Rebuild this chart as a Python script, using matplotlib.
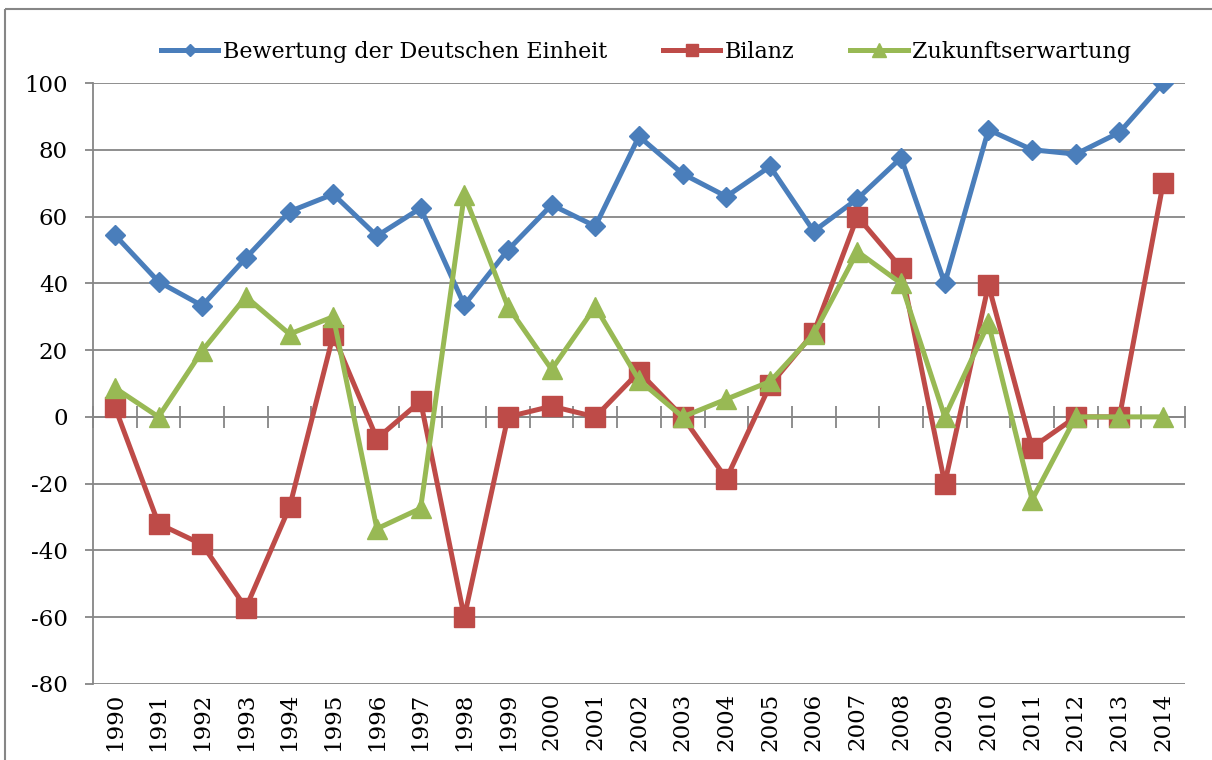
# -*- coding: utf-8 -*-

import matplotlib
matplotlib.use('Agg')
import matplotlib.pyplot as plt
from matplotlib.lines import Line2D

# Jahre und Werte
jahre = [str(j) for j in range(1990, 2015)]

bewertung = [54.5, 40.5, 33.3, 47.6, 61.5, 66.7, 54.2, 62.5, 33.5, 50.0,
             63.5, 57.1, 84.0, 72.8, 66.0, 75.0, 55.6, 65.3, 77.6, 40.0,
             86.0, 80.0, 78.7, 85.2, 100.0]

bilanz = [3.0, -32.0, -38.2, -57.2, -27.0, 24.5, -6.5, 4.7, -60.0, 0.0,
          3.2, 0.0, 13.5, 0.0, -18.5, 9.5, 25.2, 60.0, 44.6, -20.0,
          39.5, -9.2, 0.0, 0.0, 70.0]

zukunft = [8.7, 0.0, 19.8, 36.0, 24.8, 30.0, -33.5, -27.4, 66.5, 33.0,
           14.2, 33.0, 11.0, 0.0, 5.3, 10.6, 24.8, 49.5, 40.0, 0.0,
           28.0, -24.8, 0.0, 0.0, 0.0]

namen = ['Bewertung der Deutschen Einheit', 'Bilanz', 'Zukunftserwartung']
farben = ['#4A7EBB', '#BE4B48', '#98B954']

plt.rcParams['font.family'] = ['DejaVu Serif']
plt.rcParams['axes.unicode_minus'] = False
grau = '#868686'

fig = plt.figure(figsize=(12.12, 7.6), dpi=100)
ax = fig.add_axes([93 / 1212, 1 - 684 / 760, (1185 - 93) / 1212, (684 - 83) / 760])

x = list(range(len(jahre)))
ax.plot(x, bewertung, color=farben[0], lw=3.6, marker='D', ms=10, label=namen[0])
ax.plot(x, bilanz, color=farben[1], lw=3.6, marker='s', ms=14, label=namen[1])
ax.plot(x, zukunft, color=farben[2], lw=3.6, marker='^', ms=14, label=namen[2])

ymin, ymax = -80, 100
ax.set_ylim(ymin, ymax)
ax.set_xlim(-0.5, len(jahre) - 0.5)
ax.set_yticks(range(-80, 101, 20))
ax.yaxis.grid(True, color=grau, lw=1.3)
ax.set_axisbelow(True)

for s in ['top', 'right', 'bottom']:
    ax.spines[s].set_visible(False)
ax.spines['left'].set_color(grau)
ax.spines['left'].set_linewidth(1.3)

ax.set_xticks(x)
ax.set_xticklabels(jahre, rotation=90, va='top', ha='center')
ax.tick_params(axis='x', length=0, pad=6, labelsize=16.5)
ax.tick_params(axis='y', length=6, color=grau, width=1.3, pad=12, labelsize=16.5)

# Nulllinie mit Teilstrichen zwischen den Kategorien
null = ax.secondary_xaxis((0 - ymin) / (ymax - ymin))
null.set_xticks([i - 0.5 for i in range(len(jahre) + 1)])
null.tick_params(direction='inout', length=16, color=grau, width=1.3, labelbottom=False)
null.spines['bottom'].set_color(grau)
null.spines['bottom'].set_linewidth(1.3)

handles = [Line2D([], [], color=farben[0], lw=3.6, marker='D', ms=6),
           Line2D([], [], color=farben[1], lw=3.6, marker='s', ms=9),
           Line2D([], [], color=farben[2], lw=3.6, marker='^', ms=9.5)]
fig.legend(handles, namen, loc='center', bbox_to_anchor=(646 / 1212, 1 - 52 / 760),
           ncol=3, frameon=False, fontsize=16, handlelength=2.6,
           handletextpad=0.2, columnspacing=2.5)

# Rahmen des Diagrammbereichs (links und oben)
fig.add_artist(Line2D([5 / 1212, 5 / 1212], [0, 1 - 9 / 760], color=grau, lw=1.5,
                      solid_capstyle='butt', transform=fig.transFigure))
fig.add_artist(Line2D([5 / 1212, 1.0], [1 - 9 / 760, 1 - 9 / 760], color=grau, lw=1.5,
                      solid_capstyle='butt', transform=fig.transFigure))

fig.savefig('out.png', dpi=100)
